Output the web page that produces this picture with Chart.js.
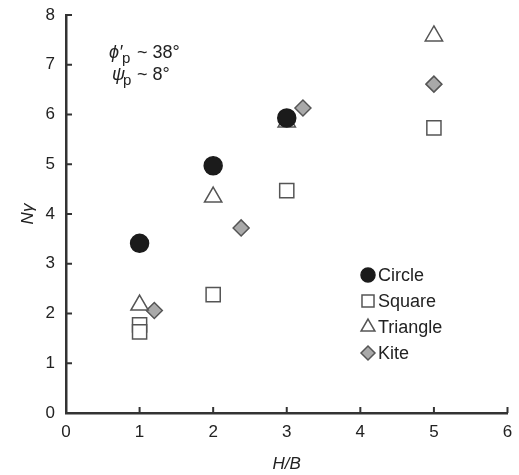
<!DOCTYPE html>
<html>
<head>
<meta charset="utf-8">
<script src="https://cdn.jsdelivr.net/npm/chart.js@4/dist/chart.umd.min.js"></script>
<style>
  html, body { margin: 0; padding: 0; background: #fff; }
  #wrap { width: 519px; height: 475px; }
</style>
</head>
<body>
<div id="wrap"><canvas id="grafico"></canvas></div>
<script>
// valores (H/B x N gamma)
const circulo_x = [1, 2, 3]
const circulo_y = [3.41, 4.97, 5.93]
const quadrado_x = [1, 1, 2, 3, 5]
const quadrado_y = [1.77, 1.63, 2.38, 4.47, 5.73]
const triangulo_x = [1, 2, 3, 5]
const triangulo_y = [2.17, 4.34, 5.85, 7.58]
const pipa_x = [1.2, 2.38, 3.22, 5]
const pipa_y = [2.06, 3.72, 6.13, 6.61]
const ticks_x = [0, 1, 2, 3, 4, 5, 6]
const ticks_y = [0, 1, 2, 3, 4, 5, 6, 7, 8]
const nomes_series = ['Circle', 'Square', 'Triangle', 'Kite']

const fonte = '"Liberation Sans", Arial, sans-serif'
const cor_eixo = '#333'
const cor_texto = '#222'

function pontos(xs, ys) {
    let vt = []
    for (let i = 0; i < xs.length; i++) {
        vt.push({ x: xs[i], y: ys[i] })
    }
    return vt
}

const estilos = [
    { pointStyle: 'circle', radius: 9, fill: '#1b1b1b', border: '#1b1b1b', lr: 7 },
    { pointStyle: 'rect', radius: 10, fill: '#ffffff', border: '#555555', lr: 8.5 },
    { pointStyle: 'triangle', radius: 10, fill: '#ffffff', border: '#555555', lr: 8 },
    { pointStyle: 'rectRot', radius: 8, fill: '#a9a9a9', border: '#555555', lr: 7 },
]
const series = [pontos(circulo_x, circulo_y), pontos(quadrado_x, quadrado_y), pontos(triangulo_x, triangulo_y), pontos(pipa_x, pipa_y)]

const datasets = []
for (let i = 0; i < series.length; i++) {
    datasets.push({
        label: nomes_series[i],
        data: series[i],
        pointStyle: estilos[i].pointStyle,
        pointRadius: estilos[i].radius,
        pointHoverRadius: estilos[i].radius,
        backgroundColor: estilos[i].fill,
        borderColor: estilos[i].border,
        borderWidth: 1.5,
        showLine: false,
    })
}

function desenhar_marcador(ctx, estilo, r, x, y) {
    if (estilo == 'circle') {
        ctx.arc(x, y, r, 0, Math.PI * 2)
    } else if (estilo == 'rect') {
        const s = Math.SQRT1_2 * r
        ctx.rect(x - s, y - s, 2 * s, 2 * s)
    } else if (estilo == 'triangle') {
        ctx.moveTo(x, y - r)
        ctx.lineTo(x + r * Math.sin(2 * Math.PI / 3), y - r * Math.cos(2 * Math.PI / 3))
        ctx.lineTo(x + r * Math.sin(4 * Math.PI / 3), y - r * Math.cos(4 * Math.PI / 3))
        ctx.closePath()
    } else {
        ctx.moveTo(x - r, y)
        ctx.lineTo(x, y - r)
        ctx.lineTo(x + r, y)
        ctx.lineTo(x, y + r)
        ctx.closePath()
    }
}

// ticks para dentro + legenda + anotacao
const extras = {
    id: 'extras',
    afterDraw(chart) {
        const ctx = chart.ctx
        const sx = chart.scales.x
        const sy = chart.scales.y
        const area = chart.chartArea
        ctx.save()
        ctx.strokeStyle = cor_eixo
        ctx.lineWidth = 2
        for (const v of ticks_x) {
            const px = sx.getPixelForValue(v)
            ctx.beginPath()
            ctx.moveTo(px, area.bottom)
            ctx.lineTo(px, area.bottom - 6)
            ctx.stroke()
        }
        for (const v of ticks_y) {
            const py = sy.getPixelForValue(v)
            ctx.beginPath()
            ctx.moveTo(area.left, py)
            ctx.lineTo(area.left + 6, py)
            ctx.stroke()
        }

        // legenda
        const lx = area.left + 302
        let ly = area.top + 260
        ctx.font = '18px ' + fonte
        ctx.textBaseline = 'middle'
        ctx.textAlign = 'left'
        for (let i = 0; i < datasets.length; i++) {
            ctx.fillStyle = estilos[i].fill
            ctx.strokeStyle = estilos[i].border
            ctx.lineWidth = 1.5
            ctx.beginPath()
            desenhar_marcador(ctx, estilos[i].pointStyle, estilos[i].lr, lx, ly)
            ctx.fill()
            ctx.stroke()
            ctx.fillStyle = cor_texto
            ctx.fillText(nomes_series[i], lx + 10, ly + 1)
            ly += 26
        }

        // phi e psi
        ctx.fillStyle = cor_texto
        ctx.textBaseline = 'alphabetic'
        ctx.font = 'italic 18px ' + fonte
        ctx.fillText('\u03D5\u2032', 109, 58)
        ctx.fillText('\u03C8', 112, 80)
        ctx.font = '15px ' + fonte
        ctx.fillText('p', 122, 63)
        ctx.fillText('p', 123, 85)
        ctx.font = '18px ' + fonte
        ctx.fillText('~ 38\u00B0', 137, 58)
        ctx.fillText('~ 8\u00B0', 137, 80)
        ctx.restore()
    }
}

const config = {
    type: 'scatter',
    data: { datasets: datasets },
    plugins: [extras],
    options: {
        responsive: true,
        maintainAspectRatio: false,
        animation: false,
        layout: { padding: { left: 0, right: 7, top: 15, bottom: 0 } },
        plugins: {
            legend: { display: false },
            tooltip: { enabled: false },
        },
        scales: {
            x: {
                type: 'linear',
                min: 0,
                max: 6,
                afterFit(scale) {
                    scale.height = 62
                    scale.paddingLeft = 0
                    scale.paddingRight = 0
                },
                afterBuildTicks(scale) { scale.ticks = ticks_x.map(v => ({ value: v })) },
                grid: { display: false, drawTicks: false },
                border: { display: true, color: cor_eixo, width: 2.5 },
                ticks: { padding: 9, color: cor_texto, font: { family: fonte, size: 17 } },
                title: { display: true, text: 'H/B', color: cor_texto, font: { family: fonte, size: 17, style: 'italic' }, padding: { top: 0, bottom: 1 } },
            },
            y: {
                type: 'linear',
                min: 0,
                max: 8,
                afterFit(scale) {
                    scale.width = 66
                    scale.paddingTop = 0
                    scale.paddingBottom = 0
                },
                afterBuildTicks(scale) { scale.ticks = ticks_y.map(v => ({ value: v })) },
                grid: { display: false, drawTicks: false },
                border: { display: true, color: cor_eixo, width: 2.5 },
                ticks: { padding: 11, color: cor_texto, font: { family: fonte, size: 17 } },
                title: { display: true, text: 'N\u03B3', color: cor_texto, font: { family: fonte, size: 17, style: 'italic' }, padding: { top: 18, bottom: 0 } },
            },
        },
    },
}

window.addEventListener('load', function () {
    new Chart(document.getElementById('grafico'), config)
})
</script>
</body>
</html>
